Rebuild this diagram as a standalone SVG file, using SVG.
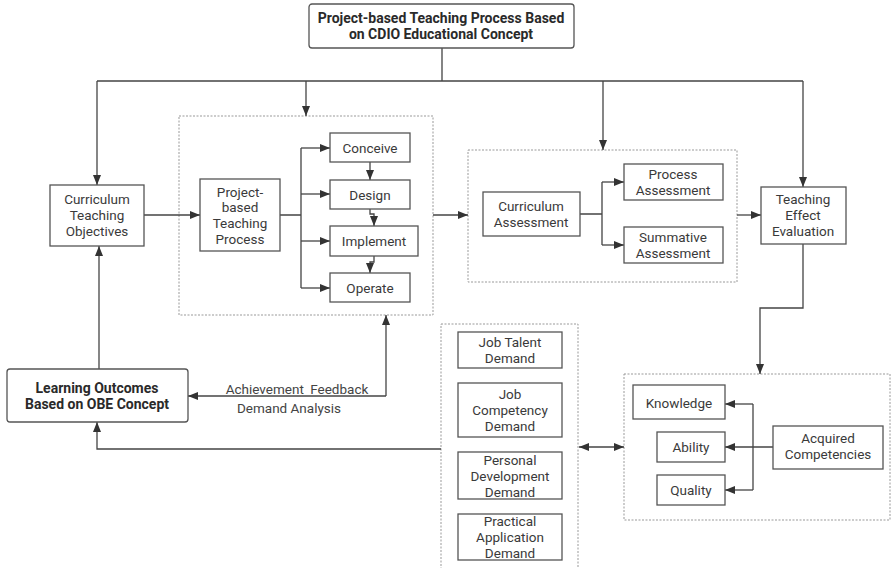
<svg xmlns="http://www.w3.org/2000/svg" width="892" height="568" viewBox="0 0 892 568">
<style>
text{font-family:Roboto,"Noto Sans","Liberation Sans",sans-serif;font-size:13.5px;fill:#3a3a3a;text-anchor:middle}
.b{font-weight:bold;font-size:14px;fill:#2a2a2a}
.box{fill:#fff;stroke:#555;stroke-width:1.3}
.dash{fill:none;stroke:#999;stroke-width:1;stroke-dasharray:2,1.5}
.c{fill:none;stroke:#444;stroke-width:1.3}
.ar{marker-end:url(#a)}
</style>
<defs>
<marker id="a" viewBox="0 0 10 8" refX="10" refY="4" markerWidth="10" markerHeight="8" orient="auto-start-reverse" markerUnits="userSpaceOnUse"><path d="M0,0 L10,4 L0,8 z" fill="#333"/></marker>
</defs>
<rect width="892" height="568" fill="#fff"/>
<g id="groups">
<rect class="dash" x="179" y="116" width="254" height="199"/>
<rect class="dash" x="468" y="150" width="269" height="132"/>
<rect class="dash" x="624" y="374" width="266" height="146"/>
<rect class="dash" x="441" y="324" width="137" height="250"/>
</g>
<g id="connectors">
<path class="c" d="M442,48 V81 M97,81 H803"/>
<path class="c ar" d="M97,81 V185"/>
<path class="c ar" d="M306,81 V116"/>
<path class="c ar" d="M603,81 V150"/>
<path class="c ar" d="M803,81 V187"/>
<path class="c ar" d="M144,215 H200"/>
<path class="c" d="M280,215 H301 M301,148 V288"/>
<path class="c ar" d="M301,148 H330"/>
<path class="c ar" d="M301,194 H330"/>
<path class="c ar" d="M301,241 H330"/>
<path class="c ar" d="M301,288 H330"/>
<path class="c ar" d="M370,162 V180"/>
<path class="c ar" d="M370,209 V214 H374 V226"/>
<path class="c ar" d="M374,256 V262 H370 V273"/>
<path class="c ar" d="M433,215 H468"/>
<path class="c" d="M580,214 H602 M602,182 V245"/>
<path class="c ar" d="M602,182 H624"/>
<path class="c ar" d="M602,245 H624"/>
<path class="c ar" d="M737,215 H761"/>
<path class="c ar" d="M803,244 V308 H760 V374"/>
<path class="c ar" d="M773,447 H725"/>
<path class="c" d="M753,404 V490"/>
<path class="c ar" d="M753,404 H725"/>
<path class="c ar" d="M753,490 H725"/>
<path class="c ar" d="M579,447 H624" marker-start="url(#a)"/>
<path class="c ar" d="M441,449 H97 V422"/>
<path class="c ar" d="M99,369 V246"/>
<path class="c ar" d="M386,396 V315"/>
<path class="c ar" d="M386,396 H188"/>
</g>
<g id="labels">
<text x="297" y="394" style="fill:#444;word-spacing:3px">Achievement Feedback</text>
<text x="289" y="413" style="fill:#444">Demand Analysis</text>
</g>
<g id="title">
<rect class="box" x="309" y="4" width="265" height="44" rx="3"/>
<text class="b" x="441" y="23">Project-based Teaching Process Based</text>
<text class="b" x="441" y="39">on CDIO Educational Concept</text>
</g>
<g id="cto">
<rect class="box" x="50" y="185" width="94" height="61"/>
<text x="97" y="204">Curriculum</text>
<text x="97" y="220">Teaching</text>
<text x="97" y="236">Objectives</text>
</g>
<g id="pbtp">
<rect class="box" x="200" y="179" width="80" height="72"/>
<text x="240" y="197">Project-</text>
<text x="240" y="212">based</text>
<text x="240" y="228">Teaching</text>
<text x="240" y="244">Process</text>
</g>
<g id="conceive">
<rect class="box" x="330" y="133" width="80" height="29"/>
<text x="370" y="153">Conceive</text>
</g>
<g id="design">
<rect class="box" x="330" y="180" width="80" height="29"/>
<text x="370" y="200">Design</text>
</g>
<g id="implement">
<rect class="box" x="330" y="226" width="88" height="30"/>
<text x="374" y="246">Implement</text>
</g>
<g id="operate">
<rect class="box" x="330" y="273" width="80" height="29"/>
<text x="370" y="293">Operate</text>
</g>
<g id="ca">
<rect class="box" x="483" y="192" width="97" height="44"/>
<text x="531" y="211">Curriculum</text>
<text x="531" y="227">Assessment</text>
</g>
<g id="pa">
<rect class="box" x="624" y="164" width="99" height="36"/>
<text x="673" y="179">Process</text>
<text x="673" y="195">Assessment</text>
</g>
<g id="sa">
<rect class="box" x="624" y="227" width="99" height="36"/>
<text x="673" y="242">Summative</text>
<text x="673" y="258">Assessment</text>
</g>
<g id="tee">
<rect class="box" x="761" y="187" width="85" height="57"/>
<text x="803" y="204">Teaching</text>
<text x="803" y="220">Effect</text>
<text x="803" y="236">Evaluation</text>
</g>
<g id="lo">
<rect class="box" x="7" y="369" width="181" height="53" rx="3"/>
<text class="b" x="97" y="393">Learning Outcomes</text>
<text class="b" x="97" y="409">Based on OBE Concept</text>
</g>
<g id="jtd">
<rect class="box" x="458" y="332" width="104" height="36"/>
<text x="510" y="347">Job Talent</text>
<text x="510" y="363">Demand</text>
</g>
<g id="jcd">
<rect class="box" x="458" y="383" width="104" height="54"/>
<text x="510" y="399">Job</text>
<text x="510" y="415">Competency</text>
<text x="510" y="431">Demand</text>
</g>
<g id="pdd">
<rect class="box" x="458" y="452" width="104" height="47"/>
<text x="510" y="465">Personal</text>
<text x="510" y="481">Development</text>
<text x="510" y="497">Demand</text>
</g>
<g id="pad">
<rect class="box" x="458" y="514" width="104" height="46"/>
<text x="510" y="526">Practical</text>
<text x="510" y="542">Application</text>
<text x="510" y="558">Demand</text>
</g>
<g id="knowledge">
<rect class="box" x="633" y="385" width="92" height="34"/>
<text x="679" y="408">Knowledge</text>
</g>
<g id="ability">
<rect class="box" x="657" y="432" width="68" height="30"/>
<text x="691" y="452">Ability</text>
</g>
<g id="quality">
<rect class="box" x="657" y="475" width="68" height="30"/>
<text x="691" y="495">Quality</text>
</g>
<g id="ac">
<rect class="box" x="773" y="426" width="110" height="43"/>
<text x="828" y="443">Acquired</text>
<text x="828" y="459">Competencies</text>
</g>
</svg>
